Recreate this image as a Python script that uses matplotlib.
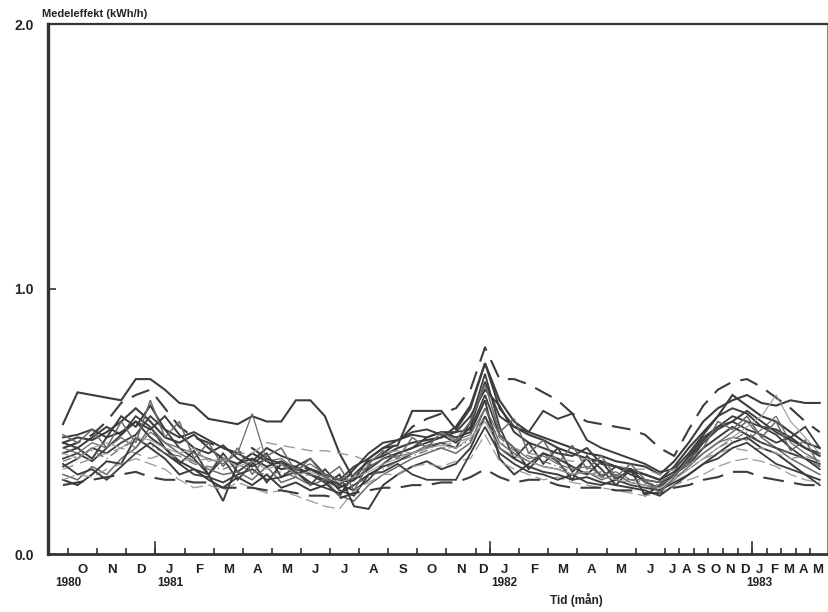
import numpy as np
import matplotlib.pyplot as plt

plt.rcParams['font.family'] = ['Liberation Sans', 'DejaVu Sans']
plt.rcParams['font.weight'] = 'bold'

# measurement number (roughly half-monthly until Jul 1982, then monthly)
s1 = [0.49, 0.61, 0.60, 0.59, 0.58, 0.66, 0.66, 0.62, 0.57, 0.56,
      0.51, 0.50, 0.49, 0.52, 0.50, 0.50, 0.58, 0.58, 0.52, 0.38,
      0.28, 0.36, 0.40, 0.41, 0.54, 0.54, 0.54, 0.47, 0.55, 0.72,
      0.58, 0.50, 0.46, 0.44, 0.42, 0.40, 0.38, 0.37, 0.35, 0.34,
      0.33, 0.30, 0.35, 0.42, 0.50, 0.55, 0.58, 0.60, 0.57, 0.56,
      0.58, 0.57, 0.57]
s2 = [0.40, 0.42, 0.45, 0.50, 0.57, 0.60, 0.62, 0.55, 0.48, 0.44,
      0.42, 0.40, 0.38, 0.40, 0.36, 0.34, 0.33, 0.32, 0.30, 0.28,
      0.27, 0.33, 0.38, 0.42, 0.48, 0.51, 0.53, 0.55, 0.62, 0.78,
      0.66, 0.66, 0.64, 0.61, 0.58, 0.53, 0.50, 0.49, 0.48, 0.47,
      0.45, 0.40, 0.37, 0.47, 0.56, 0.62, 0.65, 0.66, 0.63, 0.59,
      0.55, 0.50, 0.46]
s3 = [0.42, 0.44, 0.43, 0.46, 0.50, 0.55, 0.50, 0.44, 0.42, 0.45,
      0.40, 0.36, 0.34, 0.38, 0.35, 0.32, 0.33, 0.30, 0.27, 0.22,
      0.30, 0.35, 0.37, 0.40, 0.42, 0.43, 0.44, 0.48, 0.56, 0.72,
      0.55, 0.48, 0.45, 0.43, 0.40, 0.38, 0.36, 0.35, 0.33, 0.32,
      0.30, 0.28, 0.33, 0.40, 0.46, 0.52, 0.60, 0.56, 0.52, 0.50,
      0.46, 0.42, 0.40]
s4 = [0.36, 0.38, 0.35, 0.40, 0.45, 0.52, 0.48, 0.40, 0.34, 0.39,
      0.30, 0.36, 0.28, 0.34, 0.38, 0.29, 0.33, 0.36, 0.30, 0.24,
      0.22, 0.30, 0.33, 0.35, 0.38, 0.40, 0.42, 0.40, 0.50, 0.68,
      0.48, 0.36, 0.42, 0.34, 0.40, 0.31, 0.36, 0.29, 0.33, 0.30,
      0.28, 0.27, 0.30, 0.37, 0.44, 0.48, 0.52, 0.50, 0.48, 0.45,
      0.40, 0.36, 0.32]
s5 = [0.44, 0.45, 0.47, 0.44, 0.52, 0.48, 0.56, 0.47, 0.44, 0.46,
      0.43, 0.40, 0.38, 0.35, 0.40, 0.37, 0.35, 0.32, 0.30, 0.28,
      0.33, 0.36, 0.40, 0.43, 0.46, 0.47, 0.45, 0.42, 0.48, 0.65,
      0.52, 0.48, 0.46, 0.54, 0.51, 0.53, 0.43, 0.40, 0.38, 0.36,
      0.34, 0.31, 0.32, 0.38, 0.45, 0.52, 0.55, 0.53, 0.48, 0.47,
      0.44, 0.40, 0.37]
s6 = [0.33, 0.36, 0.40, 0.38, 0.42, 0.45, 0.52, 0.47, 0.40, 0.36,
      0.30, 0.38, 0.31, 0.35, 0.27, 0.34, 0.31, 0.26, 0.32, 0.26,
      0.24, 0.28, 0.34, 0.38, 0.40, 0.42, 0.44, 0.46, 0.47, 0.60,
      0.45, 0.40, 0.32, 0.38, 0.35, 0.28, 0.37, 0.32, 0.26, 0.32,
      0.27, 0.25, 0.30, 0.35, 0.42, 0.47, 0.50, 0.47, 0.45, 0.42,
      0.44, 0.48, 0.40]
s7 = [0.30, 0.28, 0.33, 0.30, 0.36, 0.40, 0.48, 0.42, 0.38, 0.35,
      0.32, 0.30, 0.31, 0.28, 0.33, 0.27, 0.29, 0.26, 0.28, 0.22,
      0.20, 0.26, 0.30, 0.33, 0.36, 0.38, 0.40, 0.38, 0.42, 0.55,
      0.42, 0.38, 0.35, 0.33, 0.32, 0.30, 0.31, 0.28, 0.30, 0.27,
      0.26, 0.24, 0.28, 0.33, 0.38, 0.42, 0.46, 0.50, 0.44, 0.40,
      0.36, 0.33, 0.30]
s8 = [0.28, 0.26, 0.30, 0.35, 0.34, 0.44, 0.40, 0.36, 0.30, 0.32,
      0.28, 0.25, 0.29, 0.26, 0.30, 0.25, 0.27, 0.24, 0.26, 0.30,
      0.18, 0.17, 0.26, 0.30, 0.33, 0.35, 0.32, 0.34, 0.40, 0.52,
      0.40, 0.36, 0.33, 0.31, 0.30, 0.28, 0.29, 0.27, 0.26, 0.25,
      0.24, 0.22, 0.26, 0.30, 0.34, 0.38, 0.42, 0.44, 0.40, 0.38,
      0.34, 0.30, 0.28]
s9 = [0.38, 0.40, 0.36, 0.44, 0.46, 0.50, 0.44, 0.40, 0.35, 0.32,
      0.30, 0.20, 0.34, 0.36, 0.33, 0.35, 0.32, 0.30, 0.28, 0.25,
      0.28, 0.32, 0.36, 0.38, 0.40, 0.44, 0.46, 0.44, 0.46, 0.58,
      0.36, 0.30, 0.34, 0.38, 0.36, 0.33, 0.30, 0.35, 0.28, 0.32,
      0.22, 0.26, 0.30, 0.34, 0.40, 0.44, 0.48, 0.45, 0.42, 0.40,
      0.38, 0.36, 0.34]
s10 = [0.32, 0.34, 0.36, 0.38, 0.40, 0.38, 0.36, 0.38, 0.36, 0.35,
       0.36, 0.35, 0.38, 0.38, 0.42, 0.41, 0.40, 0.39, 0.39, 0.38,
       0.37, 0.35, 0.38, 0.39, 0.38, 0.40, 0.41, 0.42, 0.44, 0.50,
       0.42, 0.40, 0.38, 0.37, 0.36, 0.35, 0.36, 0.34, 0.33, 0.32,
       0.32, 0.30, 0.32, 0.34, 0.36, 0.38, 0.40, 0.39, 0.40, 0.38,
       0.36, 0.37, 0.35]
s11 = [0.28, 0.30, 0.29, 0.32, 0.34, 0.36, 0.34, 0.32, 0.28, 0.25,
       0.26, 0.24, 0.27, 0.25, 0.23, 0.24, 0.22, 0.20, 0.18, 0.17,
       0.24, 0.27, 0.30, 0.30, 0.33, 0.34, 0.33, 0.35, 0.36, 0.45,
       0.35, 0.32, 0.30, 0.28, 0.29, 0.27, 0.26, 0.25, 0.24, 0.23,
       0.22, 0.23, 0.26, 0.28, 0.30, 0.33, 0.35, 0.36, 0.35, 0.33,
       0.30, 0.28, 0.27]
s12 = [0.26, 0.27, 0.28, 0.29, 0.30, 0.31, 0.29, 0.28, 0.28, 0.27,
       0.27, 0.25, 0.25, 0.25, 0.24, 0.24, 0.23, 0.22, 0.22, 0.21,
       0.23, 0.24, 0.25, 0.25, 0.26, 0.26, 0.27, 0.27, 0.29, 0.32,
       0.29, 0.27, 0.28, 0.28, 0.26, 0.25, 0.25, 0.25, 0.24, 0.24,
       0.23, 0.23, 0.25, 0.26, 0.28, 0.29, 0.31, 0.31, 0.29, 0.28,
       0.27, 0.26, 0.26]
s13 = [0.34, 0.30, 0.32, 0.28, 0.33, 0.38, 0.42, 0.38, 0.34, 0.30,
       0.29, 0.27, 0.30, 0.32, 0.28, 0.29, 0.31, 0.27, 0.25, 0.23,
       0.26, 0.30, 0.31, 0.34, 0.30, 0.28, 0.28, 0.28, 0.38, 0.48,
       0.38, 0.34, 0.31, 0.30, 0.28, 0.30, 0.27, 0.26, 0.28, 0.26,
       0.25, 0.24, 0.27, 0.30, 0.34, 0.36, 0.40, 0.42, 0.38, 0.34,
       0.32, 0.30, 0.26]
s14 = [0.40, 0.38, 0.42, 0.40, 0.44, 0.40, 0.46, 0.42, 0.40, 0.38,
       0.36, 0.34, 0.38, 0.53, 0.35, 0.36, 0.32, 0.34, 0.30, 0.28,
       0.30, 0.33, 0.36, 0.37, 0.38, 0.41, 0.42, 0.43, 0.45, 0.55,
       0.45, 0.40, 0.36, 0.37, 0.34, 0.32, 0.33, 0.30, 0.31, 0.28,
       0.28, 0.27, 0.30, 0.34, 0.38, 0.42, 0.44, 0.43, 0.47, 0.52,
       0.42, 0.38, 0.35]
s15 = [0.42, 0.40, 0.44, 0.48, 0.45, 0.50, 0.47, 0.52, 0.45, 0.40,
       0.38, 0.41, 0.36, 0.33, 0.36, 0.34, 0.30, 0.32, 0.29, 0.26,
       0.32, 0.38, 0.42, 0.43, 0.45, 0.44, 0.46, 0.46, 0.52, 0.62,
       0.56, 0.46, 0.42, 0.40, 0.38, 0.37, 0.40, 0.34, 0.33, 0.31,
       0.30, 0.28, 0.31, 0.36, 0.43, 0.48, 0.50, 0.54, 0.50, 0.46,
       0.43, 0.40, 0.38]
s16 = [0.35, 0.37, 0.39, 0.36, 0.40, 0.43, 0.41, 0.38, 0.37, 0.34,
       0.33, 0.32, 0.34, 0.31, 0.30, 0.31, 0.29, 0.30, 0.28, 0.27,
       0.26, 0.29, 0.32, 0.35, 0.37, 0.39, 0.40, 0.40, 0.43, 0.52,
       0.44, 0.39, 0.37, 0.35, 0.33, 0.31, 0.30, 0.31, 0.29, 0.28,
       0.27, 0.26, 0.29, 0.32, 0.36, 0.40, 0.43, 0.46, 0.42, 0.40,
       0.38, 0.36, 0.33]
s17 = [0.38, 0.36, 0.40, 0.42, 0.40, 0.44, 0.43, 0.40, 0.38, 0.40,
       0.35, 0.36, 0.33, 0.35, 0.32, 0.34, 0.30, 0.31, 0.29, 0.27,
       0.29, 0.31, 0.34, 0.36, 0.38, 0.40, 0.41, 0.40, 0.44, 0.50,
       0.40, 0.37, 0.35, 0.33, 0.32, 0.30, 0.31, 0.29, 0.28, 0.27,
       0.26, 0.25, 0.28, 0.32, 0.36, 0.40, 0.44, 0.48, 0.52, 0.60,
       0.50, 0.44, 0.38]
s18 = [0.45, 0.42, 0.47, 0.40, 0.50, 0.42, 0.58, 0.44, 0.50, 0.36,
       0.42, 0.33, 0.40, 0.30, 0.37, 0.40, 0.31, 0.36, 0.29, 0.33,
       0.24, 0.34, 0.39, 0.36, 0.44, 0.40, 0.46, 0.43, 0.50, 0.64,
       0.46, 0.51, 0.38, 0.43, 0.34, 0.41, 0.32, 0.37, 0.29, 0.34,
       0.28, 0.23, 0.29, 0.36, 0.40, 0.50, 0.47, 0.52, 0.44, 0.50,
       0.39, 0.43, 0.33]

series = [s1, s2, s3, s4, s5, s6, s7, s8, s9, s10, s11, s12, s13, s14, s15, s16, s17, s18]

# month axis: Oct 1980 .. May 1983
month_letters = list('ONDJFMAMJJASOND' + 'JFMAMJ' + 'JASONDJFMAM')
month_numbers = [10, 11, 12, 1, 2, 3, 4, 5, 6, 7, 8, 9, 10, 11, 12,
                 1, 2, 3, 4, 5, 6, 7, 8, 9, 10, 11, 12, 1, 2, 3, 4, 5]
year_labels = ['1980', '1981', '1982', '1983']

# width of each month in measurement steps
month_width = [2] * 14 + [1] + [2] * 6 + [1] * 11
first_edge = 0.35

dark = '#3c3c3c'
mid = '#6a6a6a'
light = '#9a9a9a'
styles = [
    dict(color=dark, lw=1.5, ls='-'),
    dict(color=dark, lw=1.5, ls=(0, (9, 5))),
    dict(color=dark, lw=1.5, ls='-'),
    dict(color=dark, lw=1.3, ls='-'),
    dict(color=dark, lw=1.4, ls='-'),
    dict(color=dark, lw=1.3, ls='-'),
    dict(color=mid, lw=1.1, ls='-'),
    dict(color=dark, lw=1.4, ls='-'),
    dict(color=dark, lw=1.4, ls='-'),
    dict(color=light, lw=1.0, ls=(0, (8, 5))),
    dict(color=light, lw=0.9, ls=(0, (10, 4))),
    dict(color=dark, lw=1.5, ls=(0, (10, 5))),
    dict(color=dark, lw=1.3, ls='-'),
    dict(color=mid, lw=0.9, ls='-'),
    dict(color=dark, lw=1.4, ls='-'),
    dict(color=mid, lw=0.9, ls=(0, (7, 3, 1, 3))),
    dict(color=light, lw=0.8, ls='-'),
    dict(color=mid, lw=1.1, ls='-'),
]

fig = plt.figure(figsize=(8.29, 6.12), dpi=100)
ax = fig.add_axes([48 / 829, 58 / 612, 779 / 829, 530 / 612])

x = np.arange(len(s1))
for s, st in zip(series, styles):
    ax.plot(x, s, solid_joinstyle='miter', **st)

ax.set_xlim(-1.03, 52.5)
ax.set_ylim(0, 2.0)

edges = first_edge + np.concatenate([[0], np.cumsum(month_width)])
centers = (edges[:-1] + edges[1:]) / 2

ax.set_xticks(edges[:-1])
ax.set_xticklabels([])
ax.tick_params(axis='x', which='major', direction='in', length=4.5, width=1.2, color='#333')
# January boundaries drawn taller
for e, m in zip(edges[:-1], month_numbers):
    if m == 1:
        ax.plot([e, e], [0, 0.045], color='#333', lw=1.2, clip_on=False)

ax.set_xticks(centers, minor=True)
ax.set_xticklabels(month_letters, minor=True, fontsize=9.5, fontweight='bold', color='#222')
ax.tick_params(axis='x', which='minor', length=0, pad=7)

ax.set_yticks([0, 1, 2])
ax.set_yticklabels(['0.0', '1.0', '2.0'], fontsize=10, fontweight='bold', color='#222')
ax.tick_params(axis='y', direction='in', length=6, width=1.2, pad=10, color='#333')

for side, lw in [('left', 2.4), ('bottom', 2.0), ('top', 1.6), ('right', 0.8)]:
    ax.spines[side].set_linewidth(lw)
    ax.spines[side].set_color('#333')
ax.spines['right'].set_color('#888')

# year labels under the first month / January
jan_centers = [centers[i] for i, m in enumerate(month_numbers) if m == 1]
year_pos = [edges[0]] + jan_centers
trans = ax.get_xaxis_transform()
for xp, yl in zip(year_pos, year_labels):
    ax.text(xp, -0.055, yl, transform=trans, ha='center', va='center',
            fontsize=8.5, fontweight='bold', color='#222')

ax.text(0.678, -0.087, 'Tid (mån)', transform=ax.transAxes, ha='center', va='center',
        fontsize=8.5, fontweight='bold', color='#222')
fig.text(42 / 829, 1 - 14 / 612, 'Medeleffekt (kWh/h)', ha='left', va='center',
         fontsize=8, fontweight='bold', color='#222')

fig.savefig('out.png', dpi=100)
